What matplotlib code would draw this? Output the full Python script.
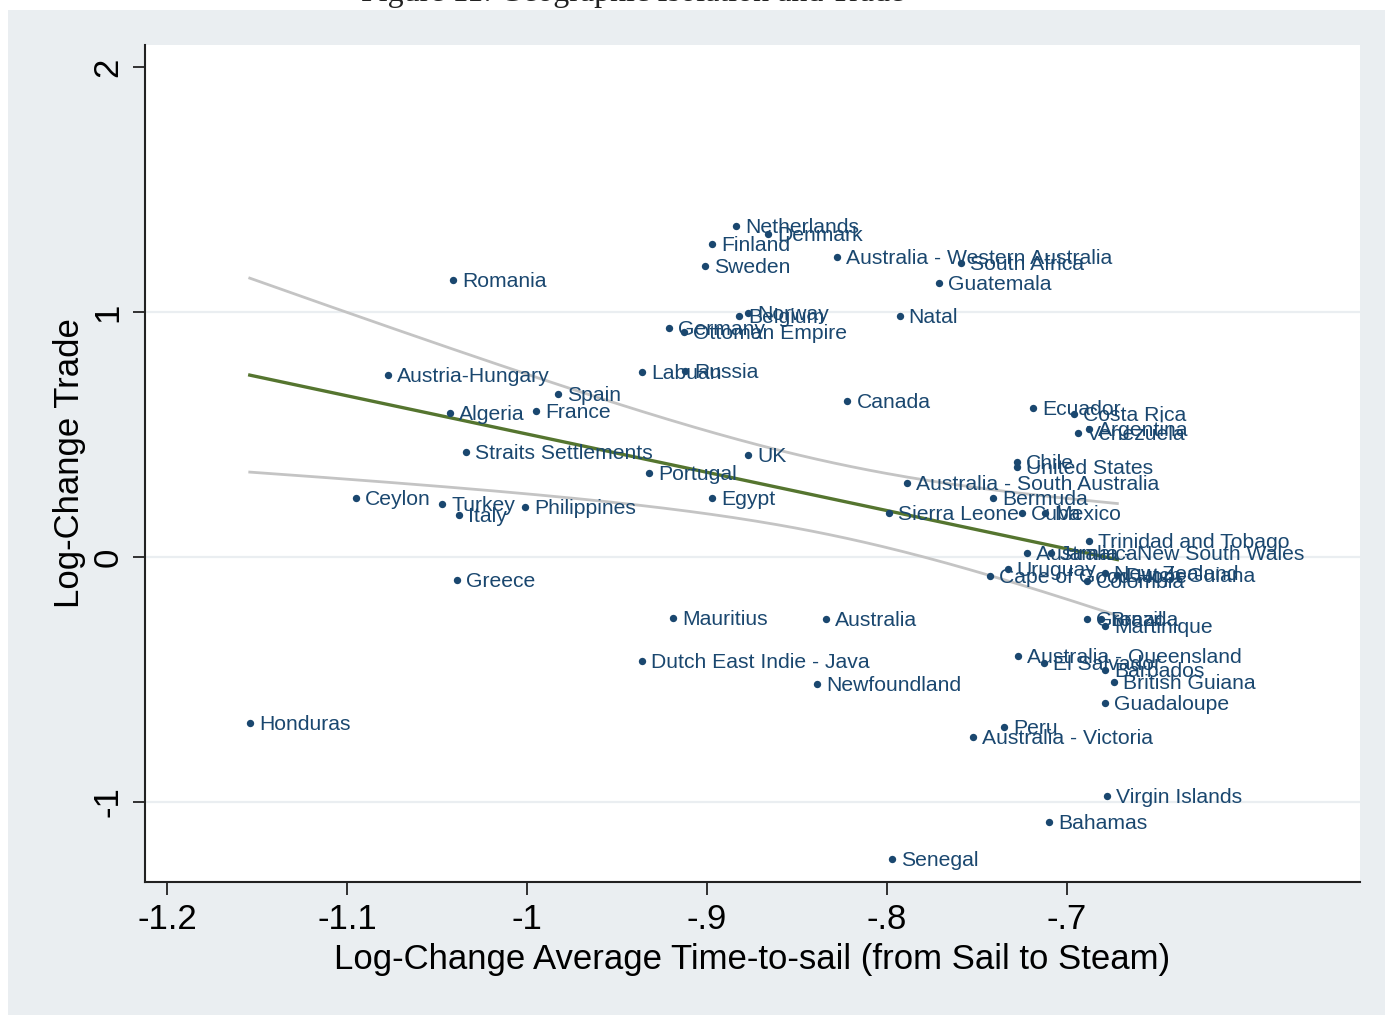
"""
Geographic isolation and trade: log-change trade vs log-change time-to-sail,
with linear fit and 95% confidence band (Stata s2color look).
"""

import numpy as np
import matplotlib
matplotlib.use("Agg")
import matplotlib.pyplot as plt
from matplotlib.patches import Rectangle

# Data
countries = [
    "Netherlands", "Denmark", "Finland", "Sweden", "Australia - Western Australia",
    "South Africa", "Guatemala", "Romania", "Natal", "Norway",
    "Belgium", "Germany", "Ottoman Empire", "Labuan", "Russia",
    "Canada", "Austria-Hungary", "Spain", "Algeria", "France",
    "Straits Settlements", "Portugal", "UK", "Egypt", "Ceylon",
    "Turkey", "Italy", "Philippines", "Greece", "Mauritius",
    "Australia", "Dutch East Indie - Java", "Newfoundland", "Honduras", "Senegal",
    "Australia - South Australia", "Sierra Leone", "Ecuador", "Costa Rica", "Argentina",
    "Venezuela", "Chile", "United States", "Bermuda", "Cuba",
    "Mexico", "Trinidad and Tobago", "Australia - New South Wales", "Jamaica", "Uruguay",
    "Cape of Good Hope", "New Zealand", "Dutch Guiana", "Colombia", "Grenada",
    "Brazil", "Martinique", "Australia - Queensland", "El Salvador", "Barbados",
    "British Guiana", "Guadaloupe", "Peru", "Australia - Victoria", "Virgin Islands",
    "Bahamas",
]
time_to_sail = [
    -0.884, -0.866, -0.897, -0.901, -0.828,
    -0.759, -0.771, -1.041, -0.793, -0.877,
    -0.882, -0.921, -0.913, -0.936, -0.912,
    -0.822, -1.077, -0.983, -1.043, -0.995,
    -1.034, -0.932, -0.877, -0.897, -1.095,
    -1.047, -1.038, -1.001, -1.039, -0.919,
    -0.834, -0.936, -0.839, -1.154, -0.797,
    -0.789, -0.799, -0.719, -0.696, -0.688,
    -0.694, -0.728, -0.728, -0.741, -0.725,
    -0.712, -0.688, -0.722, -0.709, -0.733,
    -0.743, -0.679, -0.672, -0.689, -0.689,
    -0.681, -0.679, -0.727, -0.713, -0.679,
    -0.674, -0.679, -0.735, -0.752, -0.678,
    -0.710,
]
trade = [
    1.351, 1.318, 1.278, 1.188, 1.224,
    1.200, 1.118, 1.131, 0.984, 0.996,
    0.984, 0.935, 0.918, 0.755, 0.759,
    0.637, 0.743, 0.665, 0.588, 0.596,
    0.429, 0.343, 0.416, 0.241, 0.241,
    0.216, 0.171, 0.204, -0.094, -0.249,
    -0.253, -0.424, -0.518, -0.678, -1.233,
    0.302, 0.180, 0.608, 0.584, 0.522,
    0.506, 0.388, 0.367, 0.241, 0.180,
    0.180, 0.065, 0.016, 0.016, -0.049,
    -0.078, -0.065, -0.073, -0.098, -0.253,
    -0.255, -0.282, -0.404, -0.433, -0.461,
    -0.510, -0.596, -0.694, -0.735, -0.976,
    -1.082,
]

x_ticks = [-1.2, -1.1, -1.0, -0.9, -0.8, -0.7]
x_tick_labels = ["-1.2", "-1.1", "-1", "-.9", "-.8", "-.7"]
y_ticks = [-1, 0, 1, 2]
y_tick_labels = ["-1", "0", "1", "2"]

NAVY = "#1a476f"
OLIVE = "#55752f"
CI_GRAY = "#c4c4c4"
BG = "#eaeef1"
AXIS_FONT = "Liberation Sans"


def plot_isolation(output_file="out.png"):
    x = np.array(time_to_sail)
    y = np.array(trade)
    n = len(x)

    # Linear fit with 95% CI of the prediction (like Stata lfitci)
    slope, intercept = np.polyfit(x, y, 1)
    resid = y - (slope * x + intercept)
    s = np.sqrt(np.sum(resid ** 2) / (n - 2))
    sxx = np.sum((x - x.mean()) ** 2)
    t_crit = 1.998  # t(0.975, ~64 df)
    xs = np.linspace(x.min(), x.max(), 200)
    fit = slope * xs + intercept
    half = t_crit * s * np.sqrt(1.0 / n + (xs - x.mean()) ** 2 / sxx)

    fig = plt.figure(figsize=(13.9, 10.15), dpi=100)
    fig.patch.set_facecolor("white")
    fig.patches.append(Rectangle((8 / 1390, 0), 1377 / 1390, 1005 / 1015,
                                 transform=fig.transFigure, facecolor=BG,
                                 edgecolor="none", zorder=-5))
    # Caption from the page, cut off at the top
    fig.text(0.455, 1 - 1.5 / 1015, "Figure 11: Geographic Isolation and Trade",
             ha="center", va="baseline", fontsize=23, family="Liberation Serif",
             color="#222222")

    ax = fig.add_axes([145 / 1390, 133 / 1015, 1215 / 1390, 837 / 1015])
    ax.set_zorder(1)
    ax.set_facecolor("white")

    for yy in [-1, 0, 1]:
        ax.axhline(yy, color=BG, linewidth=1.6, zorder=1)

    ax.plot(xs, fit - half, color=CI_GRAY, linewidth=2, zorder=2)
    ax.plot(xs, fit + half, color=CI_GRAY, linewidth=2, zorder=2)
    ax.plot(xs, fit, color=OLIVE, linewidth=2.4, zorder=3)

    ax.scatter(x, y, s=28, color=NAVY, zorder=4, linewidths=0)
    for name, xi, yi in zip(countries, x, y):
        ax.annotate(name, xy=(xi, yi), xytext=(6.5, -1), textcoords="offset points",
                    ha="left", va="center", fontsize=15.2, color=NAVY,
                    family="Liberation Sans", zorder=5)

    ax.set_xlim(-1.2122, -0.5372)
    ax.set_ylim(-1.327, 2.09)

    for side in ["top", "right"]:
        ax.spines[side].set_visible(False)
    for side in ["left", "bottom"]:
        ax.spines[side].set_color("#222222")
        ax.spines[side].set_linewidth(1.5)

    ax.set_xticks(x_ticks)
    ax.set_xticklabels(x_tick_labels)
    ax.set_yticks(y_ticks)
    ax.set_yticklabels(y_tick_labels, rotation=90, va="center")
    ax.tick_params(axis="both", direction="out", length=9, width=1.3,
                   color="#222222", labelsize=25, pad=6)
    for lbl in ax.get_xticklabels() + ax.get_yticklabels():
        lbl.set_family(AXIS_FONT)

    ax.set_xlabel("Log-Change Average Time-to-sail (from Sail to Steam)",
                  fontsize=25, family=AXIS_FONT, labelpad=5)
    ax.set_ylabel("Log-Change Trade", fontsize=25, family=AXIS_FONT, labelpad=4)

    plt.savefig(output_file, dpi=100)
    print(f"slope={slope:.3f} intercept={intercept:.3f}")


if __name__ == "__main__":
    plot_isolation()
